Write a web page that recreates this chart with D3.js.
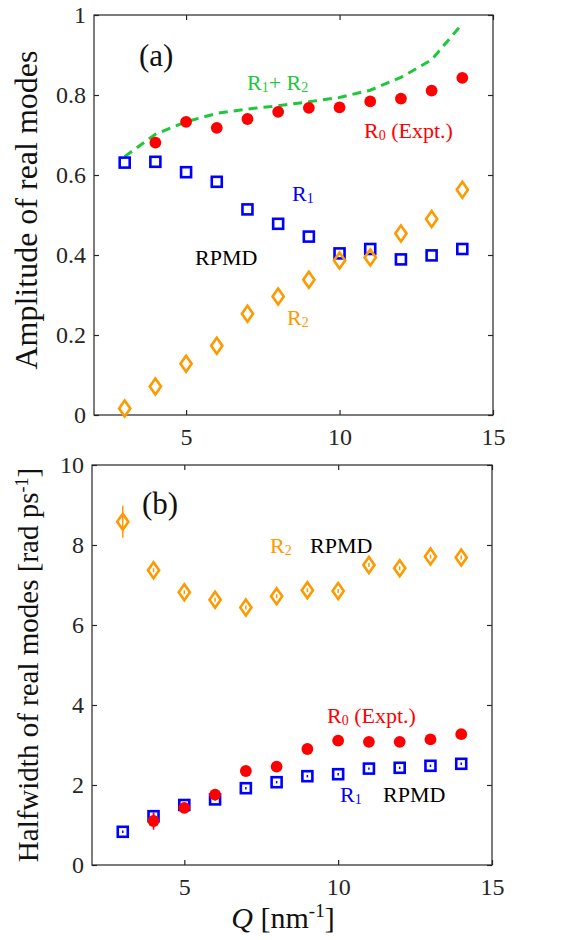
<!DOCTYPE html>
<html><head><meta charset="utf-8">
<script src="https://cdn.jsdelivr.net/npm/d3@7/dist/d3.min.js"></script>
<style>
body{margin:0;background:#fff;}
svg{display:block;}
svg text{font-family:"Liberation Serif","Times New Roman",serif !important;}
</style></head>
<body><svg id="c" width="575" height="940"></svg>
<script>
// ---------- data ----------
const qA = [3,4,5,6,7,8,9,10,11,12,13,14];
const ampR0Q = [4,5,6,7,8,9,10,11,12,13,14];
const ampR0 = [0.681,0.733,0.718,0.740,0.758,0.768,0.769,0.784,0.791,0.811,0.843];
const ampR1 = [0.631,0.633,0.607,0.583,0.514,0.478,0.446,0.404,0.415,0.389,0.399,0.415];
const ampR2 = [0.016,0.071,0.128,0.173,0.253,0.296,0.338,0.386,0.394,0.454,0.490,0.563];
const ampSum = [0.646,0.702,0.733,0.754,0.765,0.773,0.783,0.794,0.812,0.844,0.888,0.978];

const hwR0Q = [4,5,6,7,8,9,10,11,12,13,14];
const hwR0 = [1.10,1.43,1.76,2.35,2.46,2.90,3.11,3.08,3.08,3.14,3.27];
const hwR0Err = [0.22,0.03,0.03,0.03,0.03,0.03,0.03,0.03,0.03,0.03,0.03];
const hwR1 = [0.83,1.22,1.50,1.64,1.92,2.07,2.22,2.27,2.41,2.43,2.48,2.53];
const hwR1Err = [0.03,0.08,0.03,0.03,0.03,0.03,0.03,0.03,0.03,0.03,0.03,0.03];
const hwR2 = [8.58,7.37,6.82,6.63,6.44,6.72,6.87,6.85,7.50,7.42,7.71,7.69];
const hwR2Err = [0.40,0.05,0.05,0.05,0.05,0.05,0.05,0.05,0.05,0.05,0.05,0.05];

const xTicks = [5,10,15];
const ampTicks = [0,0.2,0.4,0.6,0.8,1];
const hwTicks = [0,2,4,6,8,10];

const RED="#ff0000", BLUE="#0000ff", ORANGE="#ff9900", GREEN="#1fc73c", AX="#262626";
const SERIF = "'Liberation Serif','Times New Roman',serif";

const svg = d3.select("#c");

function panel(opt){
  const g = svg.append("g");
  const x = d3.scaleLinear().domain([2,15]).range([opt.left, opt.right]);
  const y = d3.scaleLinear().domain(opt.ydom).range([opt.bottom, opt.top]);
  const tl = -5;
  const bottomAx = d3.axisBottom(x).tickValues(xTicks).tickSize(tl).tickPadding(13).tickFormat(d3.format("d"));
  const topAx = d3.axisTop(x).tickValues(xTicks).tickSize(tl).tickFormat("");
  const leftAx = d3.axisLeft(y).tickValues(opt.yticks).tickSize(tl).tickPadding(8).tickFormat(opt.yfmt);
  const rightAx = d3.axisRight(y).tickValues(opt.yticks).tickSize(tl).tickFormat("");
  const style = s => { s.attr("font-family",SERIF);
    s.selectAll(".tick line").attr("stroke",AX).attr("stroke-width",1.2);
    s.selectAll(".tick text").attr("fill","#262626").attr("font-size",24); };
  g.append("g").attr("transform",`translate(0,${opt.bottom})`).call(bottomAx).call(style);
  g.append("g").attr("transform",`translate(0,${opt.top})`).call(topAx).call(style);
  g.append("g").attr("transform",`translate(${opt.left},0)`).call(leftAx).call(style);
  g.append("g").attr("transform",`translate(${opt.right},0)`).call(rightAx).call(style);
  g.selectAll(".domain").remove();
  g.append("rect").attr("x",opt.left).attr("y",opt.top).attr("width",opt.right-opt.left).attr("height",opt.bottom-opt.top)
    .attr("fill","none").attr("stroke",AX).attr("stroke-width",1.2);
  return {g,x,y};
}

function errBars(p, xs, ys, err, col){
  p.g.append("g").selectAll("line").data(xs).join("line")
    .attr("x1",d=>p.x(d)).attr("x2",d=>p.x(d))
    .attr("y1",(d,i)=>p.y(ys[i]+err[i])).attr("y2",(d,i)=>p.y(ys[i]-err[i]))
    .attr("stroke",col).attr("stroke-width",1.5);
}
function squares(p, xs, ys, err){
  if(err) errBars(p, xs, ys, err, BLUE);
  p.g.append("g").selectAll("rect").data(xs).join("rect")
    .attr("x",(d)=>p.x(d)-5).attr("y",(d,i)=>p.y(ys[i])-5).attr("width",10).attr("height",10)
    .attr("fill","none").attr("stroke",BLUE).attr("stroke-width",2.6);
}
function circles(p, xs, ys, err){
  if(err) errBars(p, xs, ys, err, RED);
  p.g.append("g").selectAll("circle").data(xs).join("circle")
    .attr("cx",d=>p.x(d)).attr("cy",(d,i)=>p.y(ys[i])).attr("r",5.9).attr("fill",RED);
}
function diamonds(p, xs, ys, err){
  if(err) errBars(p, xs, ys, err, ORANGE);
  p.g.append("g").selectAll("path").data(xs).join("path")
    .attr("d",(d,i)=>{const cx=p.x(d), cy=p.y(ys[i]); return `M${cx},${cy-8}L${cx+5.6},${cy}L${cx},${cy+8}L${cx-5.6},${cy}Z`;})
    .attr("fill","none").attr("stroke",ORANGE).attr("stroke-width",2.6);
}
function label(x, y, parts, color, size){
  const t = svg.append("text").attr("x",x).attr("y",y).attr("fill",color).attr("font-size",size||22);
  parts.forEach(pt=>{
    if(typeof pt==="string") t.append("tspan").text(pt);
    else t.append("tspan").attr("font-size",pt.size).attr("dy",pt.dy).text(pt.t);
  });
  return t;
}

// ---------- panel (a) ----------
const pa = panel({left:94,right:493,top:15,bottom:415,ydom:[0,1],yticks:ampTicks,yfmt:d3.format("~g")});
pa.g.append("path").datum(qA.map((q,i)=>[q,ampSum[i]]))
  .attr("d",d3.line().x(d=>pa.x(d[0])).y(d=>pa.y(d[1])))
  .attr("fill","none").attr("stroke",GREEN).attr("stroke-width",3).attr("stroke-dasharray","9,6");
circles(pa, ampR0Q, ampR0);
squares(pa, qA, ampR1);
diamonds(pa, qA, ampR2);

svg.append("text").attr("x",139).attr("y",66).attr("font-size",31).attr("fill","#111").text("(a)");
label(247, 90, ["R",{t:"1",size:14,dy:2},{t:"+ R",size:22,dy:-2},{t:"2",size:14,dy:2}], GREEN);
label(364, 138, ["R",{t:"0",size:14,dy:2},{t:" (Expt.)",size:22,dy:-2}], RED);
label(292, 201, ["R",{t:"1",size:14,dy:2}], BLUE);
label(195, 265, ["RPMD"], "#000");
label(287, 325, ["R",{t:"2",size:14,dy:2}], ORANGE);
svg.append("text").attr("transform","translate(37,210) rotate(-90)").attr("text-anchor","middle")
  .attr("font-size",32).attr("fill","#111").text("Amplitude of real modes");

// ---------- panel (b) ----------
const pb = panel({left:92,right:492,top:465,bottom:865,ydom:[0,10],yticks:hwTicks,yfmt:d3.format("d")});
squares(pb, qA, hwR1, hwR1Err);
circles(pb, hwR0Q, hwR0, hwR0Err);
diamonds(pb, qA, hwR2, hwR2Err);

svg.append("text").attr("x",142).attr("y",514).attr("font-size",31).attr("fill","#111").text("(b)");
label(270, 553, ["R",{t:"2",size:14,dy:2}], ORANGE);
label(310, 553, ["RPMD"], "#000");
label(327, 723, ["R",{t:"0",size:14,dy:2},{t:" (Expt.)",size:22,dy:-2}], RED);
label(340, 802, ["R",{t:"1",size:14,dy:2}], BLUE);
label(383, 802, ["RPMD"], "#000");
const yl = svg.append("text").attr("transform","translate(38,665) rotate(-90)").attr("text-anchor","middle")
  .attr("font-size",29).attr("fill","#111");
yl.append("tspan").text("Halfwidth of real modes [rad ps");
yl.append("tspan").attr("font-size",18).attr("dy",-10).text("-1");
yl.append("tspan").attr("dy",10).text("]");

const xl = svg.append("text").attr("x",283).attr("y",928).attr("text-anchor","middle").attr("font-size",30).attr("fill","#111");
xl.append("tspan").attr("font-style","italic").text("Q");
xl.append("tspan").text(" [nm");
xl.append("tspan").attr("font-size",19).attr("dy",-11).text("-1");
xl.append("tspan").attr("dy",11).text("]");

svg.selectAll("text").attr("font-family",SERIF);
</script></body></html>
